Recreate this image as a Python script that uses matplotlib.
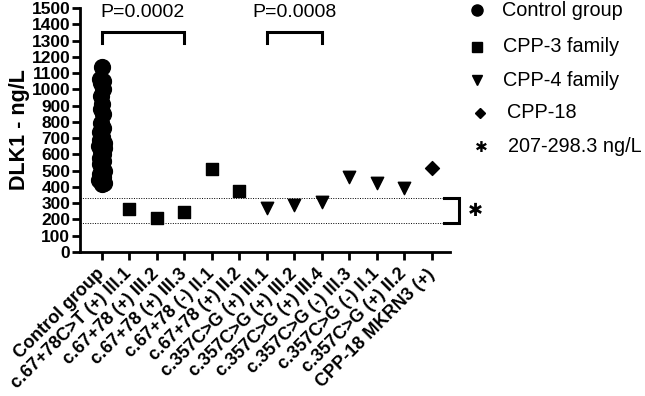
import matplotlib
matplotlib.use("Agg")
import matplotlib.pyplot as plt
import numpy as np

plt.rcParams['font.family'] = ['Liberation Sans', 'DejaVu Sans']

categories = ["Control group", "c.67+78C>T (+) III.1", "c.67+78 (+) III.2", "c.67+78 (+) III.3",
              "c.67+78 (-) II.1", "c.67+78 (+) II.2", "c.357C>G (+) III.1", "c.357C>G (+) III.2",
              "c.357C>G (+) III.4", "c.357C>G (-) III.3", "c.357C>G (-) II.1", "c.357C>G (+) II.2",
              "CPP-18 MKRN3 (+)"]

control_values = [1140, 1065, 1050, 1040, 1000, 960, 910, 880, 850, 790, 760, 740, 710, 690,
                  670, 650, 640, 620, 600, 580, 560, 540, 520, 500, 480, 460, 440, 425, 420]
control_offsets = [0, -0.05, 0.05, -0.02, 0.03, -0.03, 0.02, -0.04, 0.04, -0.02, 0.05, -0.05, 0.02,
                   -0.08, 0.08, -0.1, 0.1, -0.04, 0.06, -0.06, 0.04, -0.08, 0.0, 0.08, -0.05, 0.05,
                   -0.09, 0.09, 0.0]
cpp3_x = [1, 2, 3, 4, 5]
cpp3_values = [262, 207, 244, 510, 377]
cpp4_x = [6, 7, 8, 9, 10, 11]
cpp4_values = [270, 292, 305, 458, 425, 392]
cpp18_x = [12]
cpp18_values = [518]
ref_low, ref_high = 178, 330
pvals = [("P=0.0002", 0, 3), ("P=0.0008", 6, 8)]
legend_labels = ["Control group", "CPP-3 family", "CPP-4 family", "CPP-18", "207-298.3 ng/L"]

fig = plt.figure(figsize=(6.45, 3.96), dpi=100)
ax = fig.add_axes([80/645, 1-252/396, 370/645, 244/396])

ax.scatter(np.array(control_offsets), control_values, s=130, marker='o', color='black', zorder=3)
ax.scatter(cpp3_x, cpp3_values, s=75, marker='s', color='black', zorder=3)
ax.scatter(cpp4_x, cpp4_values, s=80, marker='v', color='black', zorder=3)
ax.scatter(cpp18_x, cpp18_values, s=50, marker='D', color='black', zorder=3)

ax.set_xlim(-0.79, 12.67)
ax.set_ylim(0, 1500)
ax.set_yticks(np.arange(0, 1501, 100))
ax.set_xticks(range(len(categories)))
ax.set_xticklabels(categories, rotation=45, ha='right', va='center', rotation_mode='anchor',
                   fontsize=13, fontweight='bold')
for lab in ax.get_yticklabels():
    lab.set_fontweight('bold')
    lab.set_fontsize(12.5)
ax.tick_params(axis='both', width=2, length=6, color='black')
ax.tick_params(axis='y', pad=1)
ax.tick_params(axis='x', pad=8)
for s in ['top', 'right']:
    ax.spines[s].set_visible(False)
for s in ['left', 'bottom']:
    ax.spines[s].set_linewidth(2)
ax.set_ylabel("DLK1 - ng/L", fontsize=15.5, fontweight='bold', labelpad=1)

# reference lines extend beyond axis
for yv in (ref_low, ref_high):
    ax.plot([-0.79, 12.45], [yv, yv], ls=(0, (1, 1.5)), color='black', lw=0.7,
            clip_on=False, zorder=1)
# right bracket
ax.plot([12.45, 13.0, 13.0, 12.45], [ref_high, ref_high, ref_low, ref_low], color='black',
        lw=2.2, clip_on=False, solid_joinstyle='miter')
ax.text(13.6, (ref_low + ref_high) / 2, "\u2731", fontsize=13, family='DejaVu Sans',
        ha='center', va='center', clip_on=False)

# p-value brackets
for txt, a, b in pvals:
    ax.plot([a, a, b, b], [1285, 1355, 1355, 1285], color='black', lw=2.2,
            solid_joinstyle='miter', clip_on=False)
    ax.text((a + b) / 2, 1470, txt, fontsize=14, ha='center', va='center')

# legend
marks = ['o', 's', 'v', 'D', None]
sizes = [8, 7, 7, 5, 0]
ys = [10, 47, 80, 113, 147]
mx = [477, 477, 477, 480, 481]
tx = [502, 503, 503, 507, 508]
for m, sz, lab, yy, xm, xt in zip(marks, sizes, legend_labels, ys, mx, tx):
    yf = 1 - yy / 396
    if m is not None:
        fig.lines.append(plt.Line2D([xm/645], [yf], marker=m, markersize=sz, color='black',
                                    transform=fig.transFigure))
    else:
        fig.text(xm/645, yf, "\u2731", fontsize=11, family='DejaVu Sans',
                 ha='center', va='center')
    fig.text(xt/645, yf, lab, fontsize=14.3, ha='left', va='center')

fig.savefig("out.png", dpi=100)
